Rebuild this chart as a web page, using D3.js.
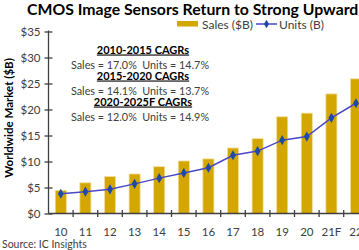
<!DOCTYPE html>
<html>
<head>
<meta charset="utf-8">
<script src="https://cdn.jsdelivr.net/npm/d3@7"></script>
<style>
  body { margin: 0; background: #fff; }
  svg { display: block; font-family: Lato, "Liberation Sans", sans-serif; }
  .axis path, .axis line { stroke: #404040; stroke-width: 1.3; }
  .axis text { fill: #404040; font-size: 11.5px; font-family: Lato, sans-serif; }
</style>
</head>
<body>
<div id="chart"></div>
<script>
// chart data
var years = ["10", "11", "12", "13", "14", "15", "16", "17", "18", "19", "20", "21F", "22"];
var sales = [4.45, 5.9, 7.1, 7.6, 9.0, 10.1, 10.5, 12.6, 14.4, 18.6, 19.3, 23.0, 25.9];
var units = [3.8, 4.2, 4.65, 5.7, 6.8, 7.8, 8.8, 11.2, 12.0, 14.1, 14.8, 18.4, 21.2];
var yTicks = [0, 5, 10, 15, 20, 25, 30, 35];
var cagrs = [
  ["2010-2015 CAGRs", "Sales = 17.0%  Units = 14.7%"],
  ["2015-2020 CAGRs", "Sales = 14.1%  Units = 13.7%"],
  ["2020-2025F CAGRs", "Sales = 12.0%  Units = 14.9%"]
];

var W = 359, H = 250;
var plotLeft = 48.5, plotTop = 31.5, plotBottom = 213.5;
var step = 24.6;

var svg = d3.select("#chart").append("svg")
    .attr("width", W)
    .attr("height", H);

var x = d3.scaleBand()
    .domain(years)
    .range([plotLeft, plotLeft + step * years.length])
    .paddingInner(0.55)
    .paddingOuter(0.275);

var y = d3.scaleLinear()
    .domain([0, 35])
    .range([plotBottom, plotTop]);

// title
svg.append("text")
    .attr("x", 27)
    .attr("y", 14.5)
    .style("font-size", "15.8px")
    .style("font-weight", "bold")
    .attr("fill", "#000")
    .text("CMOS Image Sensors Return to Strong Upward Growth");

// legend
svg.append("rect")
    .attr("x", 177).attr("y", 21)
    .attr("width", 21).attr("height", 5.5)
    .attr("fill", "#d4a600");
svg.append("text")
    .attr("x", 202).attr("y", 28.5)
    .style("font-size", "12px").attr("fill", "#404040")
    .text("Sales ($B)");
svg.append("line")
    .attr("x1", 256).attr("x2", 277)
    .attr("y1", 24).attr("y2", 24)
    .attr("stroke", "#4848c8").attr("stroke-width", 1.5);
svg.append("path")
    .attr("d", d3.symbol(d3.symbolDiamond, 22)())
    .attr("transform", "translate(266.5,24)")
    .attr("fill", "#1d4aa8");
svg.append("text")
    .attr("x", 279).attr("y", 28.5)
    .style("font-size", "12px").attr("fill", "#404040")
    .text("Units (B)");

// bars
svg.selectAll(".bar")
    .data(sales)
    .enter().append("rect")
    .attr("class", "bar")
    .attr("x", (d, i) => x(years[i]))
    .attr("y", d => y(d))
    .attr("width", x.bandwidth())
    .attr("height", d => y(0) - y(d))
    .attr("fill", "#d4a600")
    .attr("stroke", "#f2df9c")
    .attr("stroke-width", 0.8);

// y axis
var yAxis = svg.append("g")
    .attr("class", "axis")
    .attr("transform", "translate(" + plotLeft + ",0)")
    .call(d3.axisLeft(y).tickValues(yTicks).tickSize(4).tickFormat(d => "$" + d));
yAxis.selectAll(".tick line").attr("x1", 4);
yAxis.selectAll(".tick text").attr("x", -8);
yAxis.select(".domain").attr("d", "M0," + (plotTop - 1) + "V" + plotBottom);

// x axis, ticks sit between the bars
var xAxis = svg.append("g")
    .attr("class", "axis")
    .attr("transform", "translate(0," + plotBottom + ")")
    .call(d3.axisBottom(x).tickSize(0).tickPadding(14));
xAxis.select(".domain").attr("d", "M" + plotLeft + ",0H" + (plotLeft + step * years.length));
xAxis.selectAll(".sep")
    .data(years)
    .enter().append("line")
    .attr("class", "sep")
    .attr("x1", (d, i) => plotLeft + step * (i + 1))
    .attr("x2", (d, i) => plotLeft + step * (i + 1))
    .attr("y1", -3.5).attr("y2", 3.5);

// units line
var line = d3.line()
    .x((d, i) => x(years[i]) + x.bandwidth() / 2)
    .y(d => y(d));
svg.append("path")
    .datum(units)
    .attr("d", line)
    .attr("fill", "none")
    .attr("stroke", "#4848c8")
    .attr("stroke-width", 1.5);
svg.selectAll(".pt")
    .data(units)
    .enter().append("path")
    .attr("class", "pt")
    .attr("d", d3.symbol(d3.symbolDiamond, 30)())
    .attr("transform", (d, i) => "translate(" + (x(years[i]) + x.bandwidth() / 2) + "," + y(d) + ")")
    .attr("fill", "#1d4aa8");

// y axis title
svg.append("text")
    .attr("transform", "translate(13,118) rotate(-90)")
    .style("text-anchor", "middle")
    .style("font-size", "11.5px")
    .style("font-weight", "bold")
    .attr("fill", "#000")
    .text("Worldwide Market ($B)");

// CAGR notes
var notes = svg.append("g").style("text-anchor", "middle");
cagrs.forEach(function(c, i) {
  notes.append("text")
      .attr("x", 143).attr("y", 53.5 + i * 26)
      .style("font-size", "11px")
      .style("font-weight", "bold")
      .style("text-decoration", "underline")
      .attr("fill", "#000")
      .text(c[0]);
  notes.append("text")
      .attr("x", 140).attr("y", 68.5 + i * 26)
      .style("font-size", "10.8px")
      .style("white-space", "pre")
      .attr("fill", "#404040")
      .text(c[1]);
});

// source
svg.append("text")
    .attr("x", 2).attr("y", 248)
    .style("font-size", "10.5px")
    .attr("fill", "#404040")
    .text("Source: IC Insights");
</script>
</body>
</html>
